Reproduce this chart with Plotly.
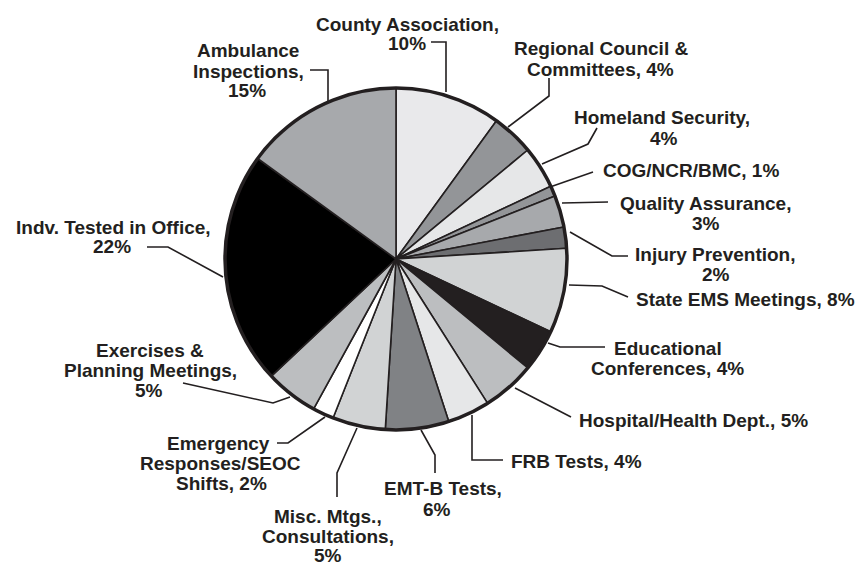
import plotly.graph_objects as go

W, H = 862, 565

# Share of time by activity, clockwise from 12 o'clock
activities = [
    "County Association", "Regional Council & Committees", "Homeland Security",
    "COG/NCR/BMC", "Quality Assurance", "Injury Prevention", "State EMS Meetings",
    "Educational Conferences", "Hospital/Health Dept.", "FRB Tests", "EMT-B Tests",
    "Misc. Mtgs., Consultations", "Emergency Responses/SEOC Shifts",
    "Exercises & Planning Meetings", "Indv. Tested in Office", "Ambulance Inspections",
]
percent = [10, 4, 4, 1, 3, 2, 8, 4, 5, 4, 6, 5, 2, 5, 22, 15]
fills = [
    "#e9e9eb", "#939598", "#e6e7e8", "#939598", "#a7a9ac", "#6d6e71", "#d1d3d4",
    "#231f20", "#bcbec0", "#e6e7e8", "#808285", "#d1d3d4", "#ffffff",
    "#bcbec0", "#000000", "#a7a9ac",
]

# Label lines for each slice
label_lines = [
    ["County Association,", "10%"],
    ["Regional Council &", "Committees, 4%"],
    ["Homeland Security,", "4%"],
    ["COG/NCR/BMC, 1%"],
    ["Quality Assurance,", "3%"],
    ["Injury Prevention,", "2%"],
    ["State EMS Meetings, 8%"],
    ["Educational", "Conferences, 4%"],
    ["Hospital/Health Dept., 5%"],
    ["FRB Tests, 4%"],
    ["EMT-B Tests,", "6%"],
    ["Misc. Mtgs.,", "Consultations,", "5%"],
    ["Emergency", "Responses/SEOC", "Shifts, 2%"],
    ["Exercises &", "Planning Meetings,", "5%"],
    ["Indv. Tested in Office,", "22%"],
    ["Ambulance", "Inspections,", "15%"],
]
# Pixel centre of every label line
line_centres = [
    [(407, 24), (407, 44)],
    [(601, 49), (600, 69)],
    [(662, 118), (664, 138)],
    [(691, 170)],
    [(705, 203), (706, 223)],
    [(715, 254), (716, 274)],
    [(745, 299)],
    [(668, 348), (667, 368)],
    [(693, 420)],
    [(576, 461)],
    [(443, 489), (437, 509)],
    [(328, 516), (328, 536), (328, 555)],
    [(219, 443), (220, 463), (221, 483)],
    [(150, 350), (150, 370), (149, 390)],
    [(113, 227), (112, 247)],
    [(248, 51), (248, 71), (247, 91)],
]
# Leader paths in pixels, from label to pie rim
leaders = [
    [(431, 42), (446, 42), (446, 92)],
    [(549, 78), (549, 96), (508, 127)],
    [(597, 128), (588, 144), (542, 164)],
    [(593, 172), (550, 187)],
    [(608, 202), (562, 203)],
    [(628, 256), (612, 256), (570, 232)],
    [(628, 297), (602, 286), (569, 285)],
    [(605, 347), (560, 347), (548, 343)],
    [(571, 417), (515, 388)],
    [(503, 460), (472, 460), (472, 415)],
    [(435, 473), (435, 455), (421, 430)],
    [(337, 497), (337, 473), (357, 428)],
    [(277, 443), (288, 443), (325, 417)],
    [(183, 383), (273, 403), (290, 397)],
    [(147, 247), (168, 247), (223, 277)],
    [(310, 70), (328, 70), (328, 101)],
]

CX, CY, R = 396, 259, 171
INK = "#231f20"
FONT = "Liberation Sans, Arial, Helvetica, sans-serif"


def px(x, y):
    return x / W, 1 - y / H


fig = go.Figure(
    go.Pie(
        labels=activities,
        values=percent,
        sort=False,
        direction="clockwise",
        rotation=0,
        textinfo="none",
        hoverinfo="label+percent",
        marker=dict(colors=fills, line=dict(color=INK, width=1.6)),
        domain=dict(x=[(CX - R) / W, (CX + R) / W], y=[1 - (CY + R) / H, 1 - (CY - R) / H]),
        showlegend=False,
    )
)

shapes = []
# heavy outer rim of the pie
x0, y1 = px(CX - R, CY - R)
x1, y0 = px(CX + R, CY + R)
shapes.append(dict(type="circle", xref="paper", yref="paper", x0=x0, y0=y0, x1=x1, y1=y1,
                   line=dict(color=INK, width=3.5), layer="above"))

for pts in leaders:
    path = ""
    for i, (x, y) in enumerate(pts):
        u, v = px(x, y)
        path += ("M" if i == 0 else " L") + f" {u:.5f} {v:.5f}"
    shapes.append(dict(type="path", xref="paper", yref="paper", path=path,
                       line=dict(color=INK, width=1.6), layer="above"))

annotations = []
for lines, centres in zip(label_lines, line_centres):
    for text, (x, y) in zip(lines, centres):
        u, v = px(x, y)
        annotations.append(dict(
            x=u, y=v, xref="paper", yref="paper", xanchor="center", yanchor="middle",
            text=f"<b>{text}</b>", showarrow=False,
            font=dict(family=FONT, size=19, color=INK),
        ))

fig.update_layout(
    width=W, height=H,
    margin=dict(l=0, r=0, t=0, b=0),
    paper_bgcolor="white", plot_bgcolor="white",
    shapes=shapes, annotations=annotations,
    font=dict(family=FONT, color=INK),
)

fig.write_html("out.html")
